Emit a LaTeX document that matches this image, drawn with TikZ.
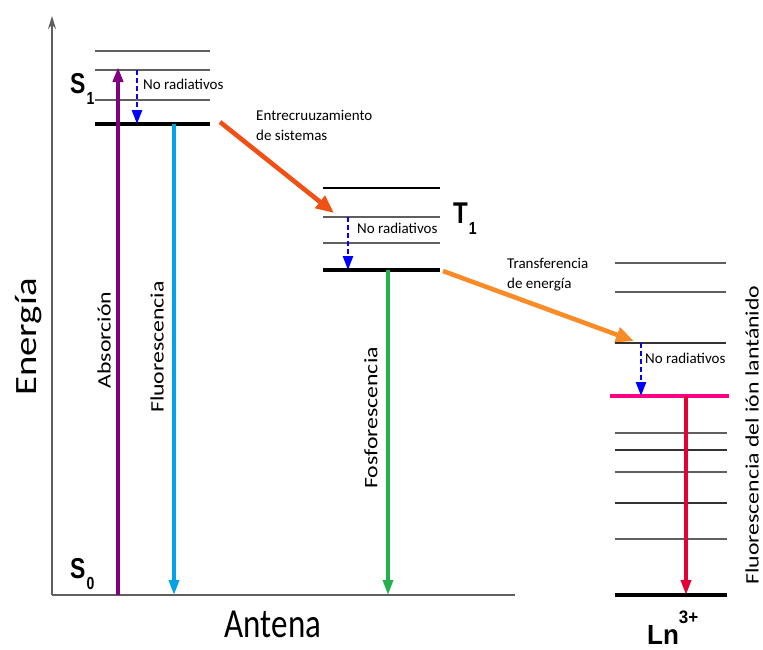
\documentclass[tikz,border=0pt]{standalone}
\usepackage{fontspec}
\setmainfont{Carlito}
\newfontfamily\statefont{Liberation Sans}
\usepackage{tikz}
\usetikzlibrary{arrows.meta}
\definecolor{purple}{RGB}{128, 0, 128}
\definecolor{cyan}{RGB}{0, 162, 232}
\definecolor{green}{RGB}{34, 177, 76}
\definecolor{crimson}{RGB}{226, 0, 52}
\definecolor{magenta}{RGB}{255, 0, 128}
\definecolor{blue}{RGB}{0, 0, 255}
\definecolor{orangered}{RGB}{240, 80, 20}
\definecolor{orange}{RGB}{250, 140, 40}
\definecolor{gray}{RGB}{95, 95, 95}
\tikzstyle{level}=[draw=gray, line width=2.6pt]
\tikzstyle{ground}=[draw=black, line width=3.4pt]
\tikzstyle{axis}=[draw=gray, line width=1.8pt]
\tikzstyle{smalltext}=[font=\fontsize{15}{20}\selectfont, inner sep=0pt, align=left]
\tikzstyle{vertext}=[font=\fontsize{19}{22}\selectfont, inner sep=0pt, yscale=1.25, rotate=90]
\tikzstyle{bigtext}=[font=\fontsize{31}{34}\selectfont, inner sep=0pt, yscale=1.25]
\tikzstyle{state}=[font=\statefont\bfseries\fontsize{23}{23}\selectfont, inner sep=0pt, yscale=1.25, anchor=base west]
\tikzstyle{transition}=[line width=3.5pt, -{Triangle[length=15pt, width=10pt]}]
\tikzstyle{nonrad}=[draw=blue, line width=2.5pt, dash pattern=on 5pt off 3pt, -{Triangle[length=14pt, width=10pt]}]
\tikzstyle{crossing}=[line width=4.6pt, -{Triangle[length=18pt, width=15pt]}]
\begin{document}
\begin{tikzpicture}[x=1pt, y=1pt]
      %
      \path[use as bounding box] (0,0) rectangle (763,-649);
      %
      % Axes
      %
      \coordinate (origin) at (52,-595);
      \coordinate (ytop) at (52,-16);
      \coordinate (xend) at (515,-595);
      \path [draw, axis, -{Stealth[length=13pt, width=8pt]}] (origin) -- (ytop);
      \path [draw, axis] (origin) -- (xend);
      \node[bigtext, rotate=90] (energy) at (29,-337) {Energía};
      \node[bigtext, font=\fontsize{33}{36}\selectfont] (antenna) at (273,-624) {Antena};
      %
      % S1 levels
      %
      \path [draw, level] (95,-51) -- (210,-51);
      \path [draw, level] (95,-70) -- (210,-70);
      \path [draw, level] (95,-100) -- (210,-100);
      \path [draw, ground] (95,-124) -- (210,-124);
      \node[state] (sone) at (70,-93) {S\kern1pt\raisebox{-9.5pt}{\fontsize{14}{14}\selectfont 1}};
      \node[state] (szero) at (70,-578) {S\kern1pt\raisebox{-9.5pt}{\fontsize{14}{14}\selectfont 0}};
      %
      % S0 --> S1 (absorption) and S1 --> S0 (fluorescence)
      %
      \coordinate (absstart) at (118,-595);
      \coordinate (absend) at (118,-67);
      \path [draw, transition, purple, line width=4pt] (absstart) -- (absend);
      \node[vertext] (absorb) at (104,-340) {Absorción};
      \coordinate (flustart) at (174,-124);
      \coordinate (fluend) at (174,-595);
      \path [draw, transition, cyan] (flustart) -- (fluend);
      \node[vertext] (fluor) at (157,-347) {Fluorescencia};
      %
      % S1 non radiative
      %
      \coordinate (snrtop) at (137,-70);
      \coordinate (snrbot) at (137,-124);
      \path [draw, nonrad] (snrtop) -- (snrbot);
      \node[smalltext, anchor=west] (snrtext) at (143,-84) {No radiativos};
      %
      % S1 --> T1 (intersystem crossing)
      %
      \coordinate (iscstart) at (220,-122);
      \coordinate (iscend) at (334,-213);
      \path [draw, crossing, orangered] (iscstart) -- (iscend);
      \node[smalltext, anchor=west] (isctext) at (256,-125.5) {Entrecruuzamiento\\de sistemas};
      %
      % T1 levels
      %
      \path [draw, level, draw=black] (323,-188) -- (440,-188);
      \path [draw, level] (323,-217) -- (440,-217);
      \path [draw, level] (323,-243) -- (440,-243);
      \path [draw, ground] (323,-270) -- (440,-270);
      \node[state, font=\statefont\bfseries\fontsize{24}{24}\selectfont] (tone) at (453,-223) {T\kern1pt\raisebox{-9.5pt}{\fontsize{14}{14}\selectfont 1}};
      %
      % T1 non radiative
      %
      \coordinate (tnrtop) at (348,-217);
      \coordinate (tnrbot) at (348,-270);
      \path [draw, nonrad] (tnrtop) -- (tnrbot);
      \node[smalltext, anchor=west] (tnrtext) at (357,-228) {No radiativos};
      %
      % T1 --> S0 (phosphorescence)
      %
      \coordinate (phostart) at (388,-270);
      \coordinate (phoend) at (388,-595);
      \path [draw, transition, green, line width=3.2pt] (phostart) -- (phoend);
      \node[vertext] (phosph) at (371,-418) {Fosforescencia};
      %
      % T1 --> Ln (energy transfer)
      %
      \coordinate (etstart) at (443,-271);
      \coordinate (etend) at (634,-341);
      \path [draw, crossing, orange] (etstart) -- (etend);
      \node[smalltext, anchor=west] (ettext) at (507,-274.5) {Transferencia\\de energía};
      %
      % Ln levels
      %
      \path [draw, level] (615,-263) -- (726,-263);
      \path [draw, level] (615,-292) -- (726,-292);
      \path [draw, level, draw=black!80] (615,-343) -- (726,-343);
      \path [draw, magenta, line width=3.8pt] (610,-396) -- (729,-396);
      \path [draw, level] (615,-433) -- (727,-433);
      \path [draw, level, draw=black!80] (615,-450) -- (727,-450);
      \path [draw, level] (615,-472) -- (727,-472);
      \path [draw, level, draw=black!80] (615,-503) -- (727,-503);
      \path [draw, level] (615,-539) -- (727,-539);
      \path [draw, ground] (615,-595) -- (727,-595);
      \node[state, font=\statefont\bfseries\fontsize{26}{26}\selectfont, yscale=0.85] (ln) at (647,-644) {Ln\raisebox{19pt}{\fontsize{17}{17}\selectfont 3+}};
      %
      % Ln non radiative
      %
      \coordinate (lnrtop) at (641,-343);
      \coordinate (lnrbot) at (641,-396);
      \path [draw, nonrad] (lnrtop) -- (lnrbot);
      \node[smalltext, anchor=west] (lnrtext) at (645,-358) {No radiativos};
      %
      % Ln emission
      %
      \coordinate (lnstart) at (686,-396);
      \coordinate (lnend) at (686,-595);
      \path [draw, transition, crimson] (lnstart) -- (lnend);
      \node[vertext] (lnfluor) at (752,-435) {Fluorescencia del ión lantánido};
      %
    \end{tikzpicture}
\end{document}
